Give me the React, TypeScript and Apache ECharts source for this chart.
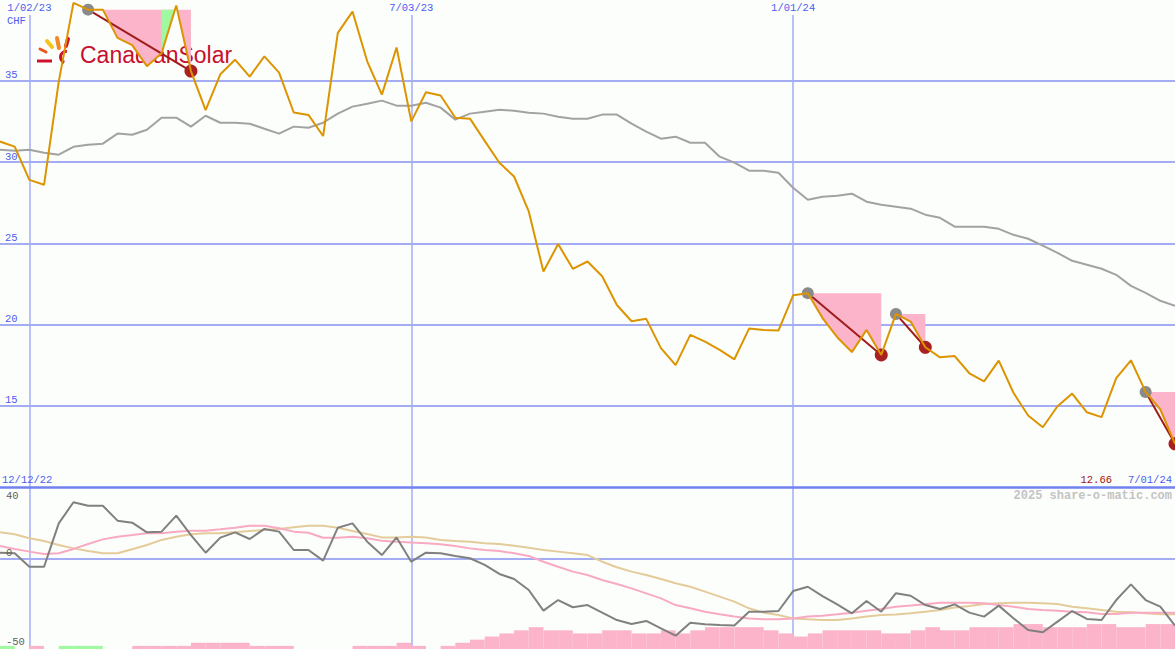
import React, { useEffect, useRef } from "react";
import * as echarts from "echarts";

// ---------- data ----------
const START_UTC = Date.UTC(2022, 11, 19);
const categories: string[] = Array.from({ length: 81 }, (_, i) => {
  const d = new Date(START_UTC + i * 7 * 86400000);
  return `${d.getUTCMonth() + 1}/${String(d.getUTCDate()).padStart(2, "0")}/${String(d.getUTCFullYear() % 100).padStart(2, "0")}`;
});
const labelIdx = [2, 28, 54];
const rangeStartLabel = "12/12/22";

const price = [31.26, 30.95, 28.9, 28.6, 34.95, 39.8, 39.38, 39.38, 37.64, 37.2,
  35.9, 36.7, 39.63, 35.6, 33.2, 35.4, 36.3, 35.26, 36.5, 35.5,
  33.05, 32.9, 31.6, 37.95, 39.26, 36.2, 34.15, 37.05, 32.5, 34.3,
  34.1, 32.73, 32.67, 31.3, 29.96, 29.11, 26.96, 23.26, 24.95, 23.43,
  23.88, 22.97, 21.2, 20.2, 20.35, 18.55, 17.5, 19.36, 18.95, 18.44,
  17.86, 19.75, 19.67, 19.63, 21.8, 21.93, 20.4, 19.22, 18.3, 19.67,
  18.13, 20.65, 20.18, 18.6, 17.98, 18.06, 17.0, 16.5, 17.78, 15.8,
  14.4, 13.68, 14.97, 15.75, 14.6, 14.3, 16.7, 17.8, 15.85, 14.77, 12.66];

const maUpper = [30.76, 30.7, 30.76, 30.57, 30.45, 30.94, 31.07, 31.13, 31.75, 31.68,
  31.99, 32.73, 32.73, 32.18, 32.85, 32.42, 32.42, 32.36, 32.05, 31.75,
  32.18, 32.11, 32.42, 32.98, 33.41, 33.59, 33.78, 33.47, 33.47, 33.65,
  33.35, 32.61, 32.98, 33.1, 33.22, 33.16, 33.04, 32.98, 32.79, 32.67,
  32.67, 32.92, 32.92, 32.36, 31.87, 31.44, 31.56, 31.19, 31.19, 30.33,
  29.96, 29.47, 29.47, 29.34, 28.42, 27.68, 27.86, 27.93, 28.05, 27.56,
  27.37, 27.25, 27.13, 26.76, 26.57, 26.02, 26.02, 26.02, 25.89, 25.52,
  25.28, 24.85, 24.41, 23.92, 23.68, 23.43, 23.06, 22.38, 21.95, 21.46, 21.15];

// downtrend spans [startIndex, endIndex]
const trendSpans = [[6, 13], [55, 60], [61, 63], [78, 80]];
const greenSpans = [[11, 12]];

const momentum = [3.5, 3.2, -4.3, -4.3, 19.8, 31.5, 29.6, 29.6, 21.3, 20.2,
  14.8, 15.2, 24.1, 13.3, 3.5, 11.9, 14.8, 11.1, 16.7, 15.2,
  5.0, 5.0, -0.9, 17.4, 19.8, 9.6, 2.2, 12.0, -1.5, 3.5,
  3.2, 1.7, 0.4, -3.3, -8.3, -11.1, -17.2, -28.7, -22.8, -26.8,
  -25.6, -29.8, -33.9, -36.1, -34.4, -38.5, -42.6, -35.4, -36.3, -36.7,
  -37.0, -29.3, -29.3, -28.9, -17.8, -15.4, -20.6, -25.2, -30.2, -23.3,
  -29.3, -19.0, -20.4, -25.6, -27.8, -25.2, -29.8, -32.0, -25.9, -32.9,
  -39.4, -40.7, -34.8, -28.9, -33.3, -33.9, -22.8, -14.1, -22.8, -26.5, -37.0];

const momPink = [7.2, 5.6, 4.1, 2.8, 3.2, 5.6, 8.3, 10.9, 12.4, 13.3,
  14.3, 14.3, 15.2, 15.7, 15.7, 16.5, 17.4, 18.5, 18.5, 17.1,
  15.2, 14.6, 11.8, 11.8, 12.4, 11.5, 10.2, 9.6, 9.1, 8.7,
  8.2, 7.2, 5.9, 5.0, 4.4, 3.2, 1.7, -1.5, -4.3, -7.0,
  -8.9, -11.7, -13.9, -16.3, -19.1, -21.9, -25.6, -27.4, -29.3, -30.7,
  -32.0, -33.0, -33.5, -33.5, -33.0, -32.0, -31.5, -30.7, -29.8, -28.7,
  -27.8, -26.5, -25.9, -25.2, -24.3, -24.3, -24.3, -24.6, -25.6, -26.5,
  -27.8, -28.3, -28.7, -29.3, -29.6, -30.6, -30.6, -29.8, -29.8, -29.8, -29.8];

const momTan = [14.8, 13.7, 11.5, 10.0, 7.8, 5.9, 4.4, 3.2, 3.2, 5.4,
  7.8, 10.6, 12.4, 13.7, 14.3, 14.3, 14.8, 15.6, 16.1, 16.7,
  17.6, 18.5, 18.5, 17.4, 15.6, 13.9, 12.0, 12.0, 12.4, 12.0,
  10.6, 10.0, 9.6, 8.7, 8.3, 7.4, 6.3, 5.0, 4.1, 3.2,
  2.2, -1.5, -4.6, -7.0, -8.9, -11.1, -13.5, -15.4, -18.1, -20.9,
  -23.7, -27.4, -29.8, -31.1, -33.0, -33.5, -33.9, -33.9, -33.0, -32.0,
  -31.1, -30.9, -30.2, -29.3, -28.3, -27.0, -26.1, -25.0, -24.6, -24.3,
  -24.3, -24.6, -25.0, -26.5, -27.4, -28.3, -29.3, -29.6, -30.2, -30.7, -30.7];

const histSteps = [1, 0, 1, 0, 1, 1, 1, 0, 0, 1,
  1, 1, 1, 2, 2, 2, 2, 1, 1, 1,
  0, 0, 0, 0, 1, 1, 1, 2, 1, 0,
  1, 2, 3, 4, 5, 6, 7, 6, 6, 5,
  5, 6, 6, 5, 5, 6, 5, 6, 7, 7,
  7, 7, 6, 5, 4, 5, 6, 6, 6, 6,
  5, 5, 6, 7, 6, 6, 7, 7, 7, 8,
  8, 7, 7, 7, 8, 8, 7, 7, 8, 8];
const histGreen = [0, 4, 5, 6];

// ---------- styles ----------
const MONO = "'Liberation Mono', 'DejaVu Sans Mono', monospace";
const BLUE_TXT = "#4c5cf0";
const GRID_BLUE = "#a4acf4";
const PINK_FILL = "#fbb4c9";
const GREEN_FILL = "#a0f8a0";

function regionPoints(api: any, a: number, b: number, level: number) {
  const px = (k: number) => api.coord([k, level])[0];
  const ly = api.coord([a, level])[1];
  const pts: number[][] = [[px(a), ly], [px(b), ly]];
  for (let k = b; k >= a; k--) {
    const v = price[k];
    if (k < b) {
      const prev = price[k + 1];
      if ((prev - level) * (v - level) < 0) {
        const t = (level - prev) / (v - prev);
        const x = px(k + 1) + t * (px(k) - px(k + 1));
        pts.push([x, ly]);
      }
    }
    pts.push(api.coord([k, Math.min(v, level)]));
  }
  return pts;
}

function spanLevelFor(idx: number) {
  const s = trendSpans.find((sp) => idx >= sp[0] && idx <= sp[1]);
  return s ? price[s[0]] : price[idx];
}

const txt = (x: number, y: number, text: string, fill: string, font: string, align = "left", z = 10) => ({
  type: "text", z, x, y,
  style: { text, fill, font, align, verticalAlign: "middle", textAlign: align, textVerticalAlign: "middle" },
});

function buildOption() {
  const splitIntervalFn = (i: number) => labelIdx.includes(i);
  const RED = "#d0112b";
  return {
    animation: false,
    backgroundColor: "#fcfefc",
    textStyle: { fontFamily: MONO },
    grid: [
      { left: 0, right: 0, top: 15, height: 472 },
      { left: 0, right: 0, top: 487, height: 162 },
    ],
    xAxis: [
      {
        type: "category", gridIndex: 0, data: categories, boundaryGap: false, position: "top",
        axisLine: { show: false }, axisTick: { show: false },
        axisLabel: { show: true, interval: splitIntervalFn, margin: 2, color: BLUE_TXT, fontFamily: MONO, fontSize: 10.5 },
        splitLine: { show: true, interval: splitIntervalFn, lineStyle: { color: GRID_BLUE, width: 1.5 } },
      },
      {
        type: "category", gridIndex: 1, data: categories, boundaryGap: false, position: "top",
        axisLine: { show: true, onZero: false, lineStyle: { color: "#7282f0", width: 2.5 } }, axisTick: { show: false },
        axisLabel: { show: false },
        splitLine: { show: true, interval: splitIntervalFn, lineStyle: { color: GRID_BLUE, width: 1.5 } },
      },
      {
        type: "category", gridIndex: 1, data: categories.slice(0, 80), boundaryGap: true, show: false,
      },
    ],
    yAxis: [
      {
        type: "value", gridIndex: 0, min: 10, max: 39.05, interval: 5,
        axisLine: { show: false }, axisTick: { show: false },
        axisLabel: {
          inside: true, margin: 5, verticalAlign: "bottom", color: BLUE_TXT, fontFamily: MONO, fontSize: 10.5,
          showMinLabel: false, showMaxLabel: false,
        },
        splitLine: { show: true, showMinLine: false, showMaxLine: false, lineStyle: { color: GRID_BLUE, width: 2 } },
      },
      {
        type: "value", gridIndex: 1, min: -50, max: 40, interval: 50,
        axisLine: { show: false }, axisTick: { show: false }, axisLabel: { show: false },
        splitLine: { show: true, showMinLine: false, showMaxLine: false, lineStyle: { color: GRID_BLUE, width: 2 } },
      },
      { type: "value", gridIndex: 1, min: 0, max: 52, show: false, splitLine: { show: false } },
    ],
    graphic: [
      // logo
      { type: "line", z: 0, shape: { x1: 40, y1: 49, x2: 46, y2: 52 }, style: { stroke: "#e8561e", lineWidth: 3, lineCap: "round" } },
      { type: "line", z: 0, shape: { x1: 47, y1: 41, x2: 52, y2: 47 }, style: { stroke: "#f6c21c", lineWidth: 4, lineCap: "round" } },
      { type: "line", z: 0, shape: { x1: 57, y1: 38, x2: 59, y2: 48 }, style: { stroke: "#f08a24", lineWidth: 4, lineCap: "round" } },
      { type: "line", z: 0, shape: { x1: 68, y1: 39, x2: 66, y2: 46 }, style: { stroke: RED, lineWidth: 4, lineCap: "round" } },
      { type: "arc", z: 0, shape: { cx: 66, cy: 57, r: 5.5, startAngle: Math.PI * 0.6, endAngle: Math.PI * 1.55, clockwise: true }, style: { stroke: RED, lineWidth: 3, fill: "none" } },
      { type: "line", z: 0, shape: { x1: 37, y1: 61, x2: 52, y2: 61 }, style: { stroke: RED, lineWidth: 3 } },
      txt(80, 55, "CanadianSolar", "#c8102e", "23px 'Liberation Sans', Arial, sans-serif", "left", 0),
      // labels
      txt(7, 21, "CHF", BLUE_TXT, `10.5px ${MONO}`),
      txt(2, 480, rangeStartLabel, BLUE_TXT, `10.5px ${MONO}`),
      txt(1172, 480, categories[categories.length - 1], BLUE_TXT, `10.5px ${MONO}`, "right"),
      txt(1112, 480, price[price.length - 1].toFixed(2), "#a01010", `10.5px ${MONO}`, "right"),
      txt(1172, 496, "2025 share-o-matic.com", "#c4c4c4", `bold 12px ${MONO}`, "right"),
      txt(6, 496, "40", "#606060", `10.5px ${MONO}`),
      txt(6, 553, "0", "#606060", `10.5px ${MONO}`),
      txt(6, 642, "-50", "#606060", `10.5px ${MONO}`),
    ],
    series: [
      {
        type: "custom", name: "trendArea", xAxisIndex: 0, yAxisIndex: 0, z: 2, clip: false,
        data: trendSpans,
        renderItem: (params: any, api: any) => {
          const a = api.value(0), b = api.value(1);
          return { type: "polygon", shape: { points: regionPoints(api, a, b, price[a]) }, style: { fill: PINK_FILL } };
        },
      },
      {
        type: "custom", name: "greenArea", xAxisIndex: 0, yAxisIndex: 0, z: 2, clip: false,
        data: greenSpans,
        renderItem: (params: any, api: any) => {
          const a = api.value(0), b = api.value(1);
          return { type: "polygon", shape: { points: regionPoints(api, a, b, spanLevelFor(a)) }, style: { fill: GREEN_FILL } };
        },
      },
      {
        type: "line", name: "MA", xAxisIndex: 0, yAxisIndex: 0, data: maUpper, symbol: "none", z: 3,
        lineStyle: { color: "#a2a2a2", width: 2 },
      },
      {
        type: "custom", name: "trendMarks", xAxisIndex: 0, yAxisIndex: 0, z: 4, clip: false,
        data: trendSpans,
        renderItem: (params: any, api: any) => {
          const a = api.value(0), b = api.value(1);
          const p1 = api.coord([a, price[a]]);
          const p2 = api.coord([b, price[b]]);
          return {
            type: "group",
            children: [
              { type: "line", shape: { x1: p1[0], y1: p1[1], x2: p2[0], y2: p2[1] }, style: { stroke: "#a01c1c", lineWidth: 2 } },
              { type: "circle", shape: { cx: p1[0], cy: p1[1], r: 6 }, style: { fill: "#8a8a8a" } },
              { type: "circle", shape: { cx: p2[0], cy: p2[1], r: 6.5 }, style: { fill: "#a82020" } },
            ],
          };
        },
      },
      {
        type: "line", name: "Price", xAxisIndex: 0, yAxisIndex: 0, data: price, symbol: "none", z: 5, clip: false,
        lineStyle: { color: "#dc9400", width: 2 },
        markPoint: {
          symbol: "circle", symbolSize: 0, data: [{ type: "max" }],
          label: { show: true, formatter: "{c}", color: "#2ca02c", fontFamily: MONO, fontSize: 10.5, offset: [-5, 18] },
        },
      },
      {
        type: "bar", name: "hist", xAxisIndex: 2, yAxisIndex: 2, barCategoryGap: "0%", barGap: "0%", z: 2,
        data: histSteps.map((v, i) => ({ value: v, itemStyle: { color: histGreen.includes(i) ? GREEN_FILL : PINK_FILL } })),
      },
      {
        type: "line", name: "tan", xAxisIndex: 1, yAxisIndex: 1, data: momTan, symbol: "none", z: 3,
        lineStyle: { color: "#e4cb9a", width: 2 },
      },
      {
        type: "line", name: "pink", xAxisIndex: 1, yAxisIndex: 1, data: momPink, symbol: "none", z: 3,
        lineStyle: { color: "#f8aac2", width: 2 },
      },
      {
        type: "line", name: "mom", xAxisIndex: 1, yAxisIndex: 1, data: momentum, symbol: "none", z: 4,
        lineStyle: { color: "#808080", width: 2 },
      },
    ],
  };
}

export default function App() {
  const ref = useRef<HTMLDivElement>(null);
  useEffect(() => {
    document.body.style.margin = "0";
    const chart = echarts.init(ref.current as HTMLDivElement, undefined, { renderer: "svg" });
    chart.setOption(buildOption() as any);
    return () => chart.dispose();
  }, []);
  return <div ref={ref} style={{ width: 1175, height: 650 }} />;
}
